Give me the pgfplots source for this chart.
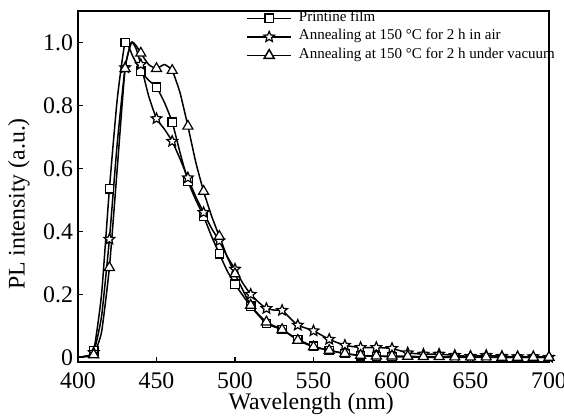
\documentclass[border=0pt]{standalone}
\usepackage{pgfplots}
\pgfplotsset{compat=1.18}
\usepackage{fontspec}
\setmainfont{Liberation Serif}

\pgfdeclareplotmark{ostar}{%
  \pgfpathmoveto{\pgfpointpolar{90}{\pgfplotmarksize}}%
  \pgfpathlineto{\pgfpointpolar{126}{0.45\pgfplotmarksize}}%
  \pgfpathlineto{\pgfpointpolar{162}{\pgfplotmarksize}}%
  \pgfpathlineto{\pgfpointpolar{198}{0.45\pgfplotmarksize}}%
  \pgfpathlineto{\pgfpointpolar{234}{\pgfplotmarksize}}%
  \pgfpathlineto{\pgfpointpolar{270}{0.45\pgfplotmarksize}}%
  \pgfpathlineto{\pgfpointpolar{306}{\pgfplotmarksize}}%
  \pgfpathlineto{\pgfpointpolar{342}{0.45\pgfplotmarksize}}%
  \pgfpathlineto{\pgfpointpolar{18}{\pgfplotmarksize}}%
  \pgfpathlineto{\pgfpointpolar{54}{0.45\pgfplotmarksize}}%
  \pgfpathclose
  \pgfusepathqfillstroke
}

% line data (denser near peak), marker data every 10 nm
\pgfplotstableread{
x y
400 0.000
405 0.004
410 0.020
415 0.200
420 0.535
425 0.820
430 1.000
435 0.955
440 0.909
445 0.880
450 0.858
455 0.810
460 0.747
465 0.650
470 0.560
475 0.500
480 0.448
485 0.385
490 0.329
495 0.275
500 0.232
510 0.162
520 0.107
530 0.088
540 0.057
550 0.035
560 0.022
570 0.012
580 0.005
590 0.003
600 0.002
620 0.000
640 0.000
660 0.000
680 0.000
700 0.000
}\sqline
\pgfplotstableread{
x y
410 0.020
420 0.535
430 1.000
440 0.909
450 0.858
460 0.747
470 0.560
480 0.448
490 0.329
500 0.232
510 0.162
520 0.107
530 0.088
540 0.057
550 0.035
560 0.022
570 0.012
580 0.005
590 0.003
600 0.002
}\sqmark
\pgfplotstableread{
x y
400 0.000
405 0.003
410 0.015
415 0.130
420 0.375
425 0.680
430 0.920
434 1.000
437 0.980
440 0.930
445 0.830
450 0.758
455 0.725
460 0.686
465 0.630
470 0.570
475 0.510
480 0.460
485 0.410
490 0.370
495 0.320
500 0.280
505 0.235
510 0.200
515 0.175
520 0.155
525 0.150
530 0.149
535 0.125
540 0.102
550 0.084
560 0.057
570 0.038
580 0.031
590 0.031
600 0.028
610 0.014
620 0.010
630 0.010
640 0.006
650 0.003
660 0.006
670 0.003
680 0.002
690 0.002
700 0.000
}\stline
\pgfplotstableread{
x y
410 0.015
420 0.375
430 0.920
440 0.930
450 0.758
460 0.686
470 0.570
480 0.460
490 0.370
500 0.280
510 0.200
520 0.155
530 0.149
540 0.102
550 0.084
560 0.057
570 0.038
580 0.031
590 0.031
600 0.028
610 0.014
620 0.010
630 0.010
640 0.006
650 0.003
660 0.006
670 0.003
680 0.002
690 0.002
700 0.000
}\stmark
\pgfplotstableread{
x y
400 0.000
405 0.002
410 0.008
415 0.080
420 0.285
425 0.600
430 0.917
434 1.000
437 0.990
440 0.966
445 0.930
450 0.917
455 0.930
460 0.911
465 0.840
470 0.734
475 0.620
480 0.527
485 0.450
490 0.384
495 0.320
500 0.265
510 0.165
520 0.112
530 0.088
540 0.054
550 0.033
560 0.022
570 0.012
580 0.006
590 0.004
600 0.004
610 0.003
620 0.002
630 0.002
640 0.001
650 0.001
660 0.001
670 0.000
680 0.000
690 0.000
700 0.000
}\trline
\pgfplotstableread{
x y
410 0.008
420 0.285
430 0.917
440 0.966
450 0.917
460 0.911
470 0.734
480 0.527
490 0.384
500 0.265
510 0.165
520 0.112
530 0.088
540 0.054
550 0.033
560 0.022
570 0.012
580 0.006
590 0.004
600 0.004
610 0.003
620 0.002
630 0.002
640 0.001
650 0.001
660 0.001
670 0.000
680 0.000
690 0.000
700 0.000
}\trmark

\begin{document}
\begin{tikzpicture}
\begin{axis}[
  scale only axis,
  width=235.5pt, height=175.5pt,
  xmin=400, xmax=700, ymin=-0.015, ymax=1.1,
  xtick={400,450,...,700},
  ytick={0,0.2,0.4,0.6,0.8,1.0},
  yticklabels={0,0.2,0.4,0.6,0.8,1.0},
  xtick pos=bottom, ytick pos=left,
  tick align=inside,
  major tick length=2.5pt,
  axis line style={line width=0.6pt},
  every tick/.style={black, line width=0.6pt},
  /pgf/number format/assume math mode=true,
  ticklabel style={font=\fontsize{11.9}{14}\selectfont},
  xticklabel style={yshift=-2pt},
  yticklabel style={xshift=1pt},
  label style={font=\fontsize{11.9}{14}\selectfont, inner sep=0pt},
  xlabel={Wavelength (nm)},
  ylabel={PL intensity (a.u.)},
  xlabel style={at={(axis description cs:0.495,-0.1197)}, anchor=center},
  ylabel style={at={(axis description cs:-0.1253,0.45)}, anchor=center},
  legend cell align=left,
  legend style={draw=none, fill=none,
    at={(rel axis cs:0.361,1)}, anchor=north west, xshift=-1pt, yshift=1.1pt,
    font=\fontsize{7.5}{9.25}\selectfont,
    inner sep=0pt, row sep=0pt, column sep=3.5pt,
    nodes={inner xsep=0pt, inner ysep=0pt, text height=6pt, text depth=3.25pt}},
  legend image code/.code={%
    \draw[mark repeat=2,mark phase=2,#1] plot coordinates {(0pt,0pt) (11pt,0pt) (22pt,0pt)};},
]
\addlegendimage{black, line width=0.75pt, mark=square*, mark size=2.1pt, mark options={fill=white, solid}}
\addlegendentry{Printine film}
\addlegendimage{black, line width=0.75pt, mark=ostar, mark size=2.8pt, mark options={fill=white, solid, line width=0.6pt}}
\addlegendentry{Annealing at 150 °C for 2 h in air}
\addlegendimage{black, line width=0.75pt, mark=triangle*, mark size=2.9pt, mark options={fill=white, solid}}
\addlegendentry{Annealing at 150 °C for 2 h under vacuum}

\addplot[black, line width=0.75pt, smooth, tension=0.3, no markers, forget plot] table {\sqline};
\addplot[black, line width=0.75pt, smooth, tension=0.3, no markers, forget plot] table {\stline};
\addplot[black, line width=0.75pt, smooth, tension=0.3, no markers, forget plot] table {\trline};
\addplot[only marks, mark=square*, mark size=2.1pt, mark options={fill=white, draw=black, line width=0.6pt}, forget plot] table {\sqmark};
\addplot[only marks, mark=ostar, mark size=2.8pt, mark options={fill=white, draw=black, line width=0.6pt}, forget plot] table {\stmark};
\addplot[only marks, mark=triangle*, mark size=2.9pt, mark options={fill=white, draw=black, line width=0.6pt}, forget plot] table {\trmark};
\end{axis}
\pgfresetboundingbox
\path[use as bounding box] ([shift={(-39pt,-27pt)}]current axis.south west) rectangle ([shift={(7.5pt,5.5pt)}]current axis.north east);
\end{tikzpicture}
\end{document}
